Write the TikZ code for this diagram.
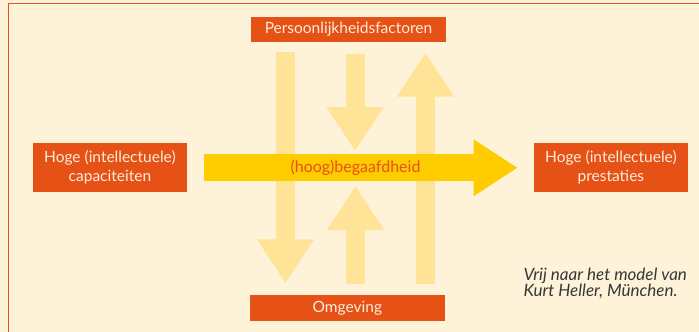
\documentclass[tikz,border=0pt]{standalone}
\usepackage{fontspec}
\setmainfont{Lato}
\usetikzlibrary{arrows.meta}
\definecolor{bgcream}{RGB}{254,242,216}
\definecolor{boxorange}{RGB}{230,82,22}
\definecolor{boxtext}{RGB}{253,236,220}
\definecolor{paleyellow}{RGB}{255,227,150}
\definecolor{gold}{RGB}{255,204,0}
\definecolor{captiongray}{RGB}{55,55,55}
\tikzset{
  obox/.style={fill=boxorange, text=boxtext, inner sep=0pt, align=center, font=\fontsize{15.5}{19}\selectfont},
  vertarrow/.style={draw=paleyellow, line width=19pt, -{Triangle[width=54pt,length=44pt]}},
  mainarrow/.style={draw=gold, line width=27pt, -{Triangle[width=53.5pt,length=44pt]}},
}
\begin{document}
\begin{tikzpicture}[x=1pt,y=-1pt]
\useasboundingbox (0,0) rectangle (699,332);
\fill[bgcream] (0,0) rectangle (699,332);
\draw[boxorange, line width=1.5pt] (8.7,345) -- (8.7,3.6) -- (705,3.6);

% boxes
\node[obox, minimum width=195pt, minimum height=25.5pt] (top) at (348.5,29.5) {Persoonlijkheidsfactoren};
\node[obox, minimum width=194.7pt, minimum height=25.7pt] (bottom) at (347.4,307.9) {Omgeving};
\node[obox, minimum width=153.7pt, minimum height=48.4pt] (left) at (109.9,167.5) {Hoge (intellectuele)\\capaciteiten};
\node[obox, minimum width=153.7pt, minimum height=48.4pt] (right) at (610.9,167.5) {Hoge (intellectuele)\\prestaties};

% arrow end points
\coordinate (a1s) at (285.5,52.3);
\coordinate (a1e) at (285.5,283.3);
\coordinate (a2s) at (355,53.7);
\coordinate (a2e) at (355,151);
\coordinate (a3s) at (355.5,283.7);
\coordinate (a3e) at (355.5,186);
\coordinate (a4s) at (425.5,283.7);
\coordinate (a4e) at (425.5,52.7);
\coordinate (hs) at (204.3,167.8);
\coordinate (he) at (517.7,167.8);

\draw[vertarrow] (a1s) -- (a1e);
\draw[vertarrow] (a2s) -- (a2e);
\draw[vertarrow] (a3s) -- (a3e);
\draw[vertarrow] (a4s) -- (a4e);
\draw[mainarrow] (hs) -- (he);

\node[text=boxorange, font=\fontsize{16}{19}\selectfont, inner sep=0pt] (label) at (355.5,168) {(hoog)begaafdheid};

\node[text=captiongray, font=\fontsize{17}{16}\itshape, align=left, anchor=base west, inner sep=0pt] (caption) at (523.3,296) {Vrij naar het model van\\Kurt Heller, München.};
\end{tikzpicture}
\end{document}
